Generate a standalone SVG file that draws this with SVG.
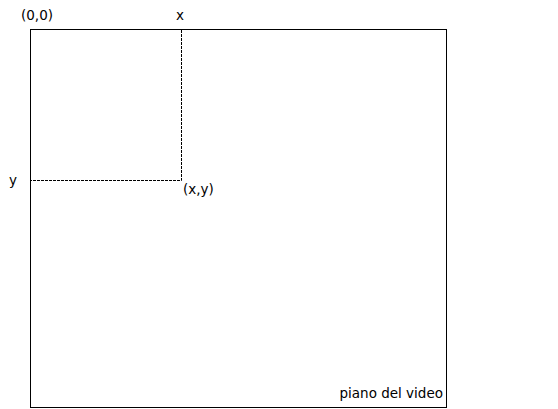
<svg xmlns="http://www.w3.org/2000/svg" width="558" height="409" viewBox="0 0 558 409">
<style>
text{font-family:"DejaVu Sans",Verdana,sans-serif;font-size:13.5px;fill:#000}
.dash{stroke:#000;stroke-width:1;stroke-dasharray:3,1;fill:none}
</style>
<rect width="558" height="409" fill="#fff"/>
<g id="screen">
<rect x="30.5" y="29.5" width="416" height="378" fill="none" stroke="#000" stroke-width="1"/>
<text x="443" y="398" text-anchor="end">piano del video</text>
</g>
<g id="connectors">
<path class="dash" d="M181.5 30V180.5H30"/>
</g>
<g id="labels">
<text x="21" y="20">(0,0)</text>
<text x="180" y="20" text-anchor="middle">x</text>
<text x="9" y="185">y</text>
<text x="183" y="194">(x,y)</text>
</g>
</svg>
